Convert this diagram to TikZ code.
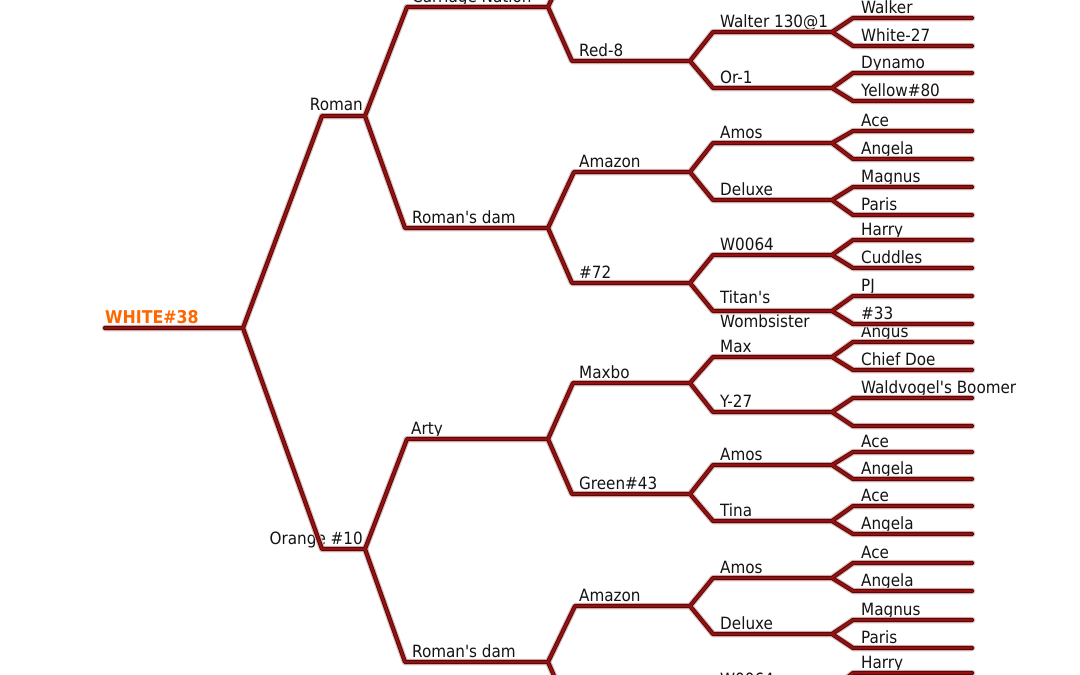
\documentclass[tikz,border=0pt]{standalone}
\usepackage{fontspec}
\setmainfont{DejaVu Sans Condensed}[Ligatures=TeXOff]
\definecolor{halo}{RGB}{226,190,190}
\definecolor{edge}{RGB}{75,10,10}
\definecolor{core}{RGB}{150,16,16}
\definecolor{orangeT}{RGB}{255,102,0}
\definecolor{txt}{RGB}{20,20,20}
\tikzset{
  lbl/.style={anchor=base west, inner sep=0pt, text=txt, font=\fontsize{16.9}{20}\selectfont},
  lble/.style={lbl, anchor=base east},
  rootlbl/.style={lbl, text=orangeT, font=\fontsize{17.6}{20}\selectfont\bfseries},
  branch/.style={draw=edge, line width=0.9pt, double=core, double distance=2.4pt,
    line cap=round, line join=round,
    preaction={draw=halo, line width=6.5pt, line cap=round, line join=round}},
}
% name, xs, xe, y, label, dx
\newcommand\pedn[6]{%
  \coordinate (#1s) at (#2,#4);
  \coordinate (#1e) at (#3,#4);
  \node[lbl] (#1) at (#2+#6,#4-5) {#5};}
% coordinates only (entry with no readable label)
\newcommand\pedc[4]{%
  \coordinate (#1s) at (#2,#4);
  \coordinate (#1e) at (#3,#4);}
\begin{document}
\begin{tikzpicture}[x=1pt,y=-1pt]
\useasboundingbox[fill=white] (0,0) rectangle (1080,675);
% generation 0
\coordinate (ws) at (105,328);
\coordinate (we) at (243,328);
\node[rootlbl] (w) at (105,323) {WHITE\#38};
% generation 1
\coordinate (rs) at (322,116); \coordinate (re) at (365,116);
\node[lble] (r) at (363,110) {Roman};
\coordinate (os) at (322,549); \coordinate (oe) at (365,549);
\node[lble] (o) at (363,544) {Orange \#10};
% generation 2
\pedn{g2a}{407}{548}{7}{Carriage Nation}{5}
\pedn{g2b}{405}{548}{228}{Roman's dam}{7}
\pedn{g2c}{407}{548}{439}{Arty}{4}
\pedn{g2d}{405}{548}{662}{Roman's dam}{7}
% generation 3
\pedc{g3a}{573}{690}{-47}
\pedn{g3b}{572}{690}{61}{Red-8}{7}
\pedn{g3c}{574}{690}{172}{Amazon}{5}
\pedn{g3d}{572}{690}{283}{\#72}{7}
\pedn{g3e}{573}{690}{383}{Maxbo}{6}
\pedn{g3f}{572}{690}{494}{Green\#43}{7}
\pedn{g3g}{575}{690}{606}{Amazon}{4}
\pedc{g3h}{572}{690}{717}
% generation 4
\pedn{g4c}{713}{832}{32}{Walter 130@1}{7}
\pedn{g4d}{713}{832}{88}{Or-1}{7}
\pedn{g4e}{713}{832}{143}{Amos}{7}
\pedn{g4f}{713}{832}{200}{Deluxe}{7}
\pedn{g4g}{713}{832}{255}{W0064}{7}
\coordinate (g4hs) at (713,311); \coordinate (g4he) at (832,311);
\node[lbl] (g4h) at (720,303) {Titan's};
\node[lbl] (g4h2) at (720,327) {Wombsister};
\pedn{g4i}{713}{832}{357}{Max}{7}
\pedn{g4j}{713}{832}{412}{Y-27}{7}
\pedn{g4k}{713}{832}{465}{Amos}{7}
\pedn{g4l}{713}{832}{521}{Tina}{7}
\pedn{g4m}{713}{832}{578}{Amos}{7}
\pedn{g4n}{713}{832}{634}{Deluxe}{7}
\pedn{g4o}{713}{832}{690}{W0064}{7}
% generation 5
\pedn{g5i}{853}{972}{18}{Walker}{8}
\pedn{g5j}{853}{972}{46}{White-27}{8}
\pedn{g5k}{853}{972}{73}{Dynamo}{8}
\pedn{g5l}{853}{972}{101}{Yellow\#80}{8}
\pedn{g5m}{853}{972}{131}{Ace}{8}
\pedn{g5n}{853}{972}{159}{Angela}{8}
\pedn{g5o}{853}{972}{187}{Magnus}{8}
\pedn{g5p}{853}{972}{215}{Paris}{8}
\pedn{g5q}{853}{972}{240}{Harry}{8}
\pedn{g5r}{853}{972}{268}{Cuddles}{8}
\pedn{g5s}{853}{972}{296}{PJ}{8}
\pedn{g5t}{853}{972}{324}{\#33}{8}
\pedn{g5u}{853}{972}{342}{Angus}{8}
\pedn{g5v}{853}{972}{370}{Chief Doe}{8}
\pedn{g5w}{853}{972}{398}{Waldvogel's Boomer}{8}
\pedc{g5x}{853}{972}{426}
\pedn{g5y}{853}{972}{452}{Ace}{8}
\pedn{g5z}{853}{972}{479}{Angela}{8}
\pedn{g5A}{853}{972}{506}{Ace}{8}
\pedn{g5B}{853}{972}{534}{Angela}{8}
\pedn{g5C}{853}{972}{563}{Ace}{8}
\pedn{g5D}{853}{972}{591}{Angela}{8}
\pedn{g5E}{853}{972}{620}{Magnus}{8}
\pedn{g5F}{853}{972}{648}{Paris}{8}
\pedn{g5G}{853}{972}{673}{Harry}{8}
% connectors
\draw[branch]
  (ws)--(we)
  (we)--(rs)--(re)  (we)--(os)--(oe)
  (re)--(g2as)--(g2ae)  (re)--(g2bs)--(g2be)
  (oe)--(g2cs)--(g2ce)  (oe)--(g2ds)--(g2de)
  (g2ae)--(g3as)--(g3ae)  (g2ae)--(g3bs)--(g3be)
  (g2be)--(g3cs)--(g3ce)  (g2be)--(g3ds)--(g3de)
  (g2ce)--(g3es)--(g3ee)  (g2ce)--(g3fs)--(g3fe)
  (g2de)--(g3gs)--(g3ge)  (g2de)--(g3hs)--(g3he)
  (g3be)--(g4cs)--(g4ce)  (g3be)--(g4ds)--(g4de)
  (g3ce)--(g4es)--(g4ee)  (g3ce)--(g4fs)--(g4fe)
  (g3de)--(g4gs)--(g4ge)  (g3de)--(g4hs)--(g4he)
  (g3ee)--(g4is)--(g4ie)  (g3ee)--(g4js)--(g4je)
  (g3fe)--(g4ks)--(g4ke)  (g3fe)--(g4ls)--(g4le)
  (g3ge)--(g4ms)--(g4me)  (g3ge)--(g4ns)--(g4ne)
  (g3he)--(g4os)--(g4oe)
  (g4ce)--(g5is)--(g5ie)  (g4ce)--(g5js)--(g5je)
  (g4de)--(g5ks)--(g5ke)  (g4de)--(g5ls)--(g5le)
  (g4ee)--(g5ms)--(g5me)  (g4ee)--(g5ns)--(g5ne)
  (g4fe)--(g5os)--(g5oe)  (g4fe)--(g5ps)--(g5pe)
  (g4ge)--(g5qs)--(g5qe)  (g4ge)--(g5rs)--(g5re)
  (g4he)--(g5ss)--(g5se)  (g4he)--(g5ts)--(g5te)
  (g4ie)--(g5us)--(g5ue)  (g4ie)--(g5vs)--(g5ve)
  (g4je)--(g5ws)--(g5we)  (g4je)--(g5xs)--(g5xe)
  (g4ke)--(g5ys)--(g5ye)  (g4ke)--(g5zs)--(g5ze)
  (g4le)--(g5As)--(g5Ae)  (g4le)--(g5Bs)--(g5Be)
  (g4me)--(g5Cs)--(g5Ce)  (g4me)--(g5Ds)--(g5De)
  (g4ne)--(g5Es)--(g5Ee)  (g4ne)--(g5Fs)--(g5Fe)
  (g4oe)--(g5Gs)--(g5Ge);
\end{tikzpicture}
\end{document}
